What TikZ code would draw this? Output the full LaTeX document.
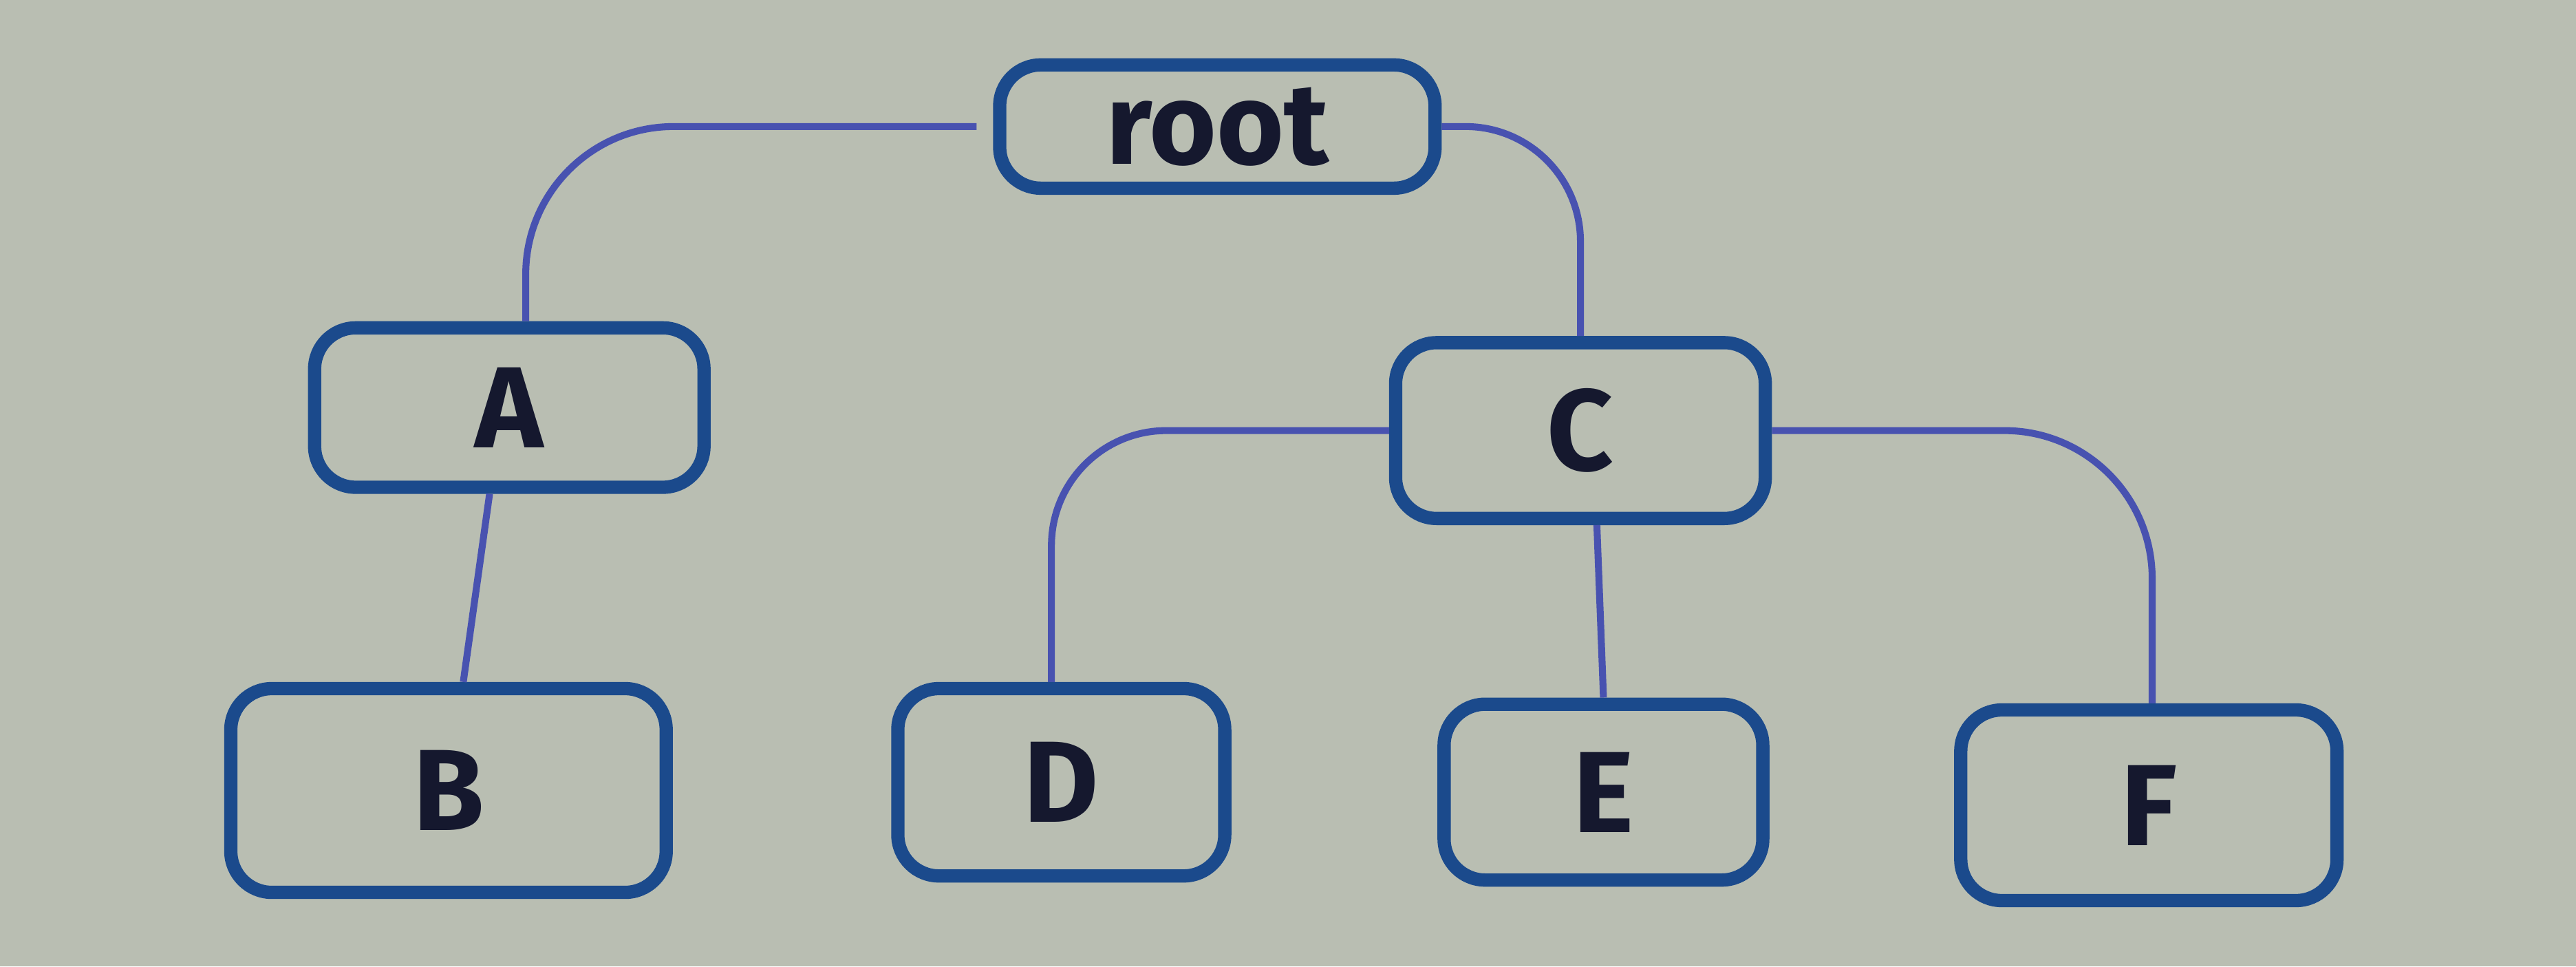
\documentclass[tikz,border=0pt]{standalone}
\usepackage{fontspec}
\setmainfont{Fira Sans}
\usepackage{tikz}
\definecolor{paper}{HTML}{B9BEB2}
\definecolor{boxblue}{HTML}{1B4A8C}
\definecolor{penblue}{HTML}{4852B0}
\definecolor{ink}{HTML}{15182E}

\begin{document}
\begin{tikzpicture}[
    treenode/.style={shape=rectangle,rounded corners=0.25cm,draw=boxblue,line width=2.3pt,
        text=ink,font=\fontsize{20}{24}\selectfont\bfseries,inner sep=0pt},
    link/.style={draw=penblue,line width=1.2pt}]
            \fill[paper] (0,0) rectangle (15.68,5.88);
            \useasboundingbox (0,0) rectangle (15.68,5.88);

            \node[treenode,minimum width=2.65cm,minimum height=0.75cm] (root) at (7.41,5.11) {root};
            \node[treenode,minimum width=2.37cm,minimum height=0.97cm] (a) at (3.10,3.40) {A};
            \node[treenode,minimum width=2.25cm,minimum height=1.07cm] (c) at (9.62,3.26) {C};
            \node[treenode,minimum width=2.65cm,minimum height=1.24cm] (b) at (2.73,1.07) {B};
            \node[treenode,minimum width=1.99cm,minimum height=1.14cm] (d) at (6.46,1.12) {D};
            \node[treenode,minimum width=1.94cm,minimum height=1.07cm] (e) at (9.76,1.06) {E};
            \node[treenode,minimum width=2.29cm,minimum height=1.16cm] (f) at (13.08,0.98) {F};

            \path [link,rounded corners=0.9cm] ([xshift=-1mm]root.west) -| ([xshift=1mm]a.north);
            \path [link,rounded corners=0.7cm] (root.east) -| (c.north);
            \path [link] ([xshift=-1.2mm]a.south) -- ([xshift=0.9mm]b.north);
            \path [link,rounded corners=0.7cm] (c.west) -| ([xshift=-0.6mm]d.north);
            \path [link] ([xshift=1mm]c.south) -- (e.north);
            \path [link,rounded corners=0.9cm] (c.east) -| ([xshift=0.2mm]f.north);
        \end{tikzpicture}
\end{document}
